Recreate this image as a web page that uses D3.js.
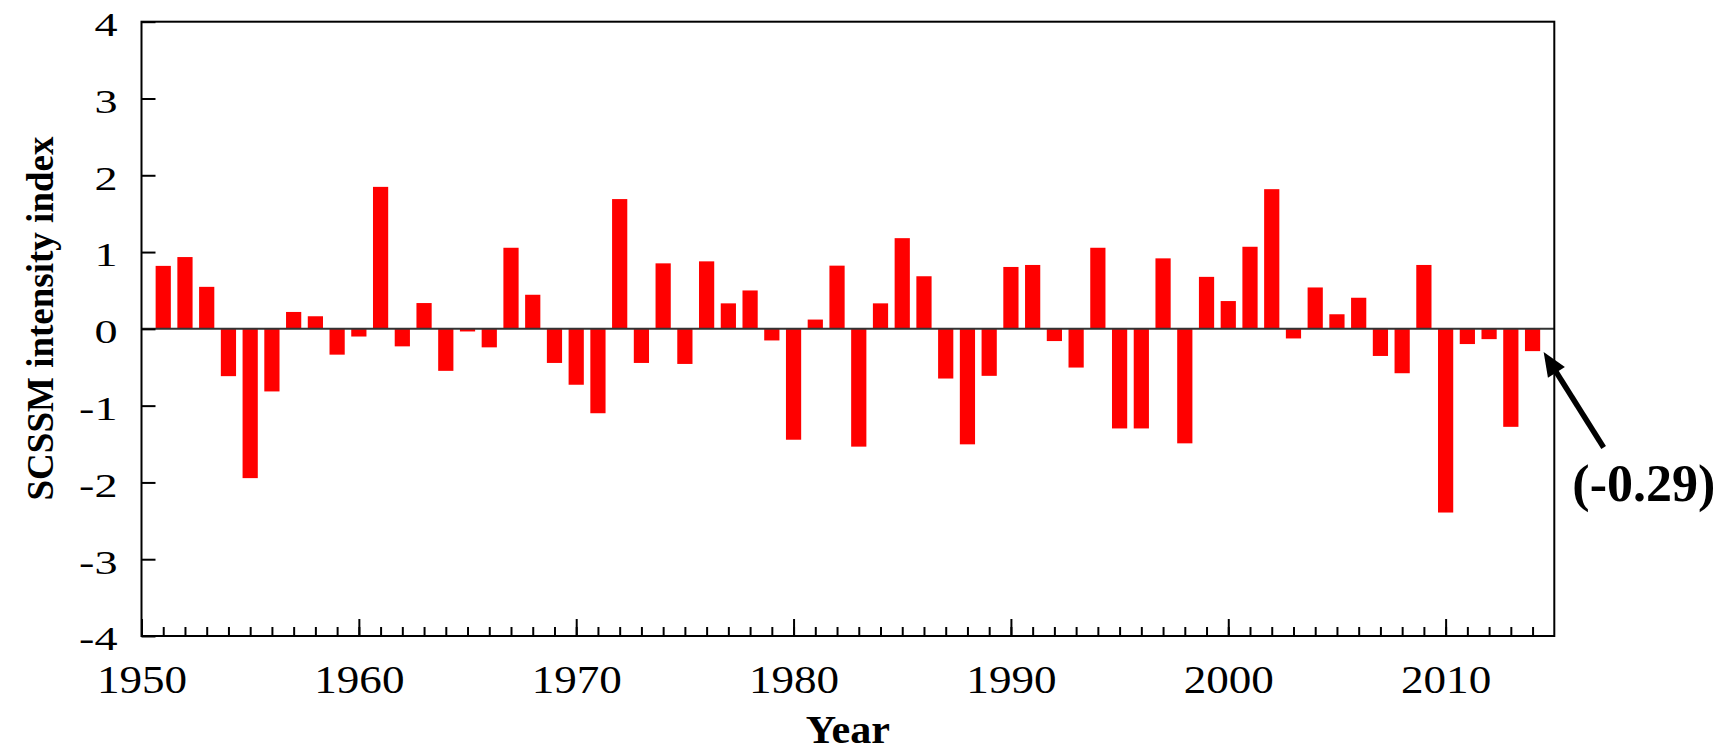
<!DOCTYPE html>
<html>
<head>
<meta charset="utf-8">
<script src="https://cdn.jsdelivr.net/npm/d3@7"></script>
<style>
  html, body { margin: 0; padding: 0; background: #fff; }
  svg { display: block; }
</style>
</head>
<body>
<svg id="chart" width="1731" height="752"></svg>
<script>
// ---- data ----
const years = d3.range(1951, 2015);
const values = [
  0.82, 0.935, 0.547, -0.616, -1.944, -0.815, 0.22, 0.164, -0.336, -0.10,
  1.849, -0.228, 0.336, -0.547, -0.034, -0.241, 1.056, 0.444, -0.444, -0.728,
  -1.099, 1.69, -0.444, 0.853, -0.457, 0.879, 0.332, 0.50, -0.151, -1.444,
  0.121, 0.823, -1.534, 0.332, 1.181, 0.685, -0.647, -1.504, -0.612, 0.806,
  0.832, -0.159, -0.504, 1.056, -1.297, -1.297, 0.918, -1.491, 0.677, 0.362,
  1.069, 1.819, -0.125, 0.539, 0.19, 0.405, -0.353, -0.578, 0.832, -2.392,
  -0.198, -0.134, -1.276, -0.29
];
const yTickValues = [-4, -3, -2, -1, 0, 1, 2, 3, 4];
const xMajorTicks = [1950, 1960, 1970, 1980, 1990, 2000, 2010];
const xMinorTicks = d3.range(1951, 2015);
const annotationText = "(-0.29)";
// annotation anchor points in data coordinates (year, value)
const arrowTip = [2014.51, -0.303];
const arrowTail = [2017.27, -1.546];
const annotationPos = [2015.83, -2.24];

// ---- layout ----
const svg = d3.select("#chart");
const pLeft = 141.5, pRight = 1554.3, pTop = 21.7, pBottom = 636;
const x = d3.scaleLinear().domain([1950, 2015]).range([pLeft, pRight]);
const y = d3.scaleLinear().domain([-4, 4]).range([pBottom, pTop]);
const step = x(1951) - x(1950);
const bw = step * 0.70;
const serif = "'Liberation Serif', 'Times New Roman', serif";

// bars
svg.append("g").selectAll("rect")
  .data(years.map((yr, i) => ({ yr, v: values[i] })))
  .join("rect")
  .attr("x", d => x(d.yr) - bw / 2)
  .attr("width", bw)
  .attr("y", d => y(Math.max(0, d.v)))
  .attr("height", d => Math.abs(y(d.v) - y(0)))
  .attr("fill", "#ff0000");

// zero line
svg.append("line")
  .attr("x1", pLeft).attr("x2", pRight)
  .attr("y1", y(0)).attr("y2", y(0))
  .attr("stroke", "#333").attr("stroke-width", 2);

// y axis
const yAxis = svg.append("g")
  .attr("transform", `translate(${pLeft},0)`)
  .call(d3.axisLeft(y).tickValues(yTickValues).tickFormat(d3.format("d"))
    .tickSizeInner(-14).tickSizeOuter(0).tickPadding(24));
yAxis.select(".domain").remove();
yAxis.selectAll(".tick line").attr("stroke", "#000").attr("stroke-width", 2);
yAxis.selectAll(".tick text")
  .attr("x", 0)
  .attr("dy", "0.42em")
  .attr("transform", "translate(-24,0) scale(1.4,1)")
  .attr("font-family", serif)
  .attr("font-size", 33)
  .attr("fill", "#000")
  .text(d => d < 0 ? "-" + Math.abs(d) : d);

// x minor ticks
const xMinor = svg.append("g")
  .attr("transform", `translate(0,${pBottom})`)
  .call(d3.axisBottom(x).tickValues(xMinorTicks).tickFormat("")
    .tickSizeInner(-9).tickSizeOuter(0));
xMinor.select(".domain").remove();
xMinor.selectAll(".tick line").attr("stroke", "#000").attr("stroke-width", 2);

// x major ticks + labels
const xAxis = svg.append("g")
  .attr("transform", `translate(0,${pBottom})`)
  .call(d3.axisBottom(x).tickValues(xMajorTicks).tickFormat(d3.format("d"))
    .tickSizeInner(-17).tickSizeOuter(0).tickPadding(28));
xAxis.select(".domain").remove();
xAxis.selectAll(".tick line").attr("stroke", "#000").attr("stroke-width", 2);
xAxis.selectAll(".tick text")
  .attr("x", 0)
  .attr("transform", "scale(1.1,1)")
  .attr("font-family", serif)
  .attr("font-size", 41)
  .attr("fill", "#000");

// frame
svg.append("rect")
  .attr("x", pLeft).attr("y", pTop)
  .attr("width", pRight - pLeft).attr("height", pBottom - pTop)
  .attr("fill", "none").attr("stroke", "#000").attr("stroke-width", 2);

// axis titles
svg.append("text")
  .attr("transform", `translate(53,${(135 + 502) / 2}) rotate(-90)`)
  .attr("text-anchor", "middle")
  .attr("font-family", serif)
  .attr("font-weight", "bold")
  .attr("font-size", 37)
  .attr("fill", "#000")
  .text("SCSSM intensity index");

svg.append("text")
  .attr("transform", `translate(${(pLeft + pRight) / 2},743) scale(1.08,1)`)
  .attr("text-anchor", "middle")
  .attr("font-family", serif)
  .attr("font-weight", "bold")
  .attr("font-size", 39)
  .attr("fill", "#000")
  .text("Year");

// annotation arrow
const tx = x(arrowTip[0]), ty = y(arrowTip[1]);
const sx = x(arrowTail[0]), sy = y(arrowTail[1]);
const ang = Math.atan2(ty - sy, tx - sx);
const headLen = 24, headHalf = 10;
const bx = tx - headLen * Math.cos(ang), by = ty - headLen * Math.sin(ang);
svg.append("line")
  .attr("x1", sx).attr("y1", sy)
  .attr("x2", bx + 4 * Math.cos(ang)).attr("y2", by + 4 * Math.sin(ang))
  .attr("stroke", "#000").attr("stroke-width", 5.5);
svg.append("path")
  .attr("d", d3.line()([
    [tx, ty],
    [bx + headHalf * Math.sin(ang), by - headHalf * Math.cos(ang)],
    [bx - headHalf * Math.sin(ang), by + headHalf * Math.cos(ang)]
  ]) + "Z")
  .attr("fill", "#000");

svg.append("text")
  .attr("x", x(annotationPos[0]))
  .attr("y", y(annotationPos[1]))
  .attr("font-family", serif)
  .attr("font-weight", "bold")
  .attr("font-size", 52)
  .attr("fill", "#000")
  .text(annotationText);
</script>
</body>
</html>
